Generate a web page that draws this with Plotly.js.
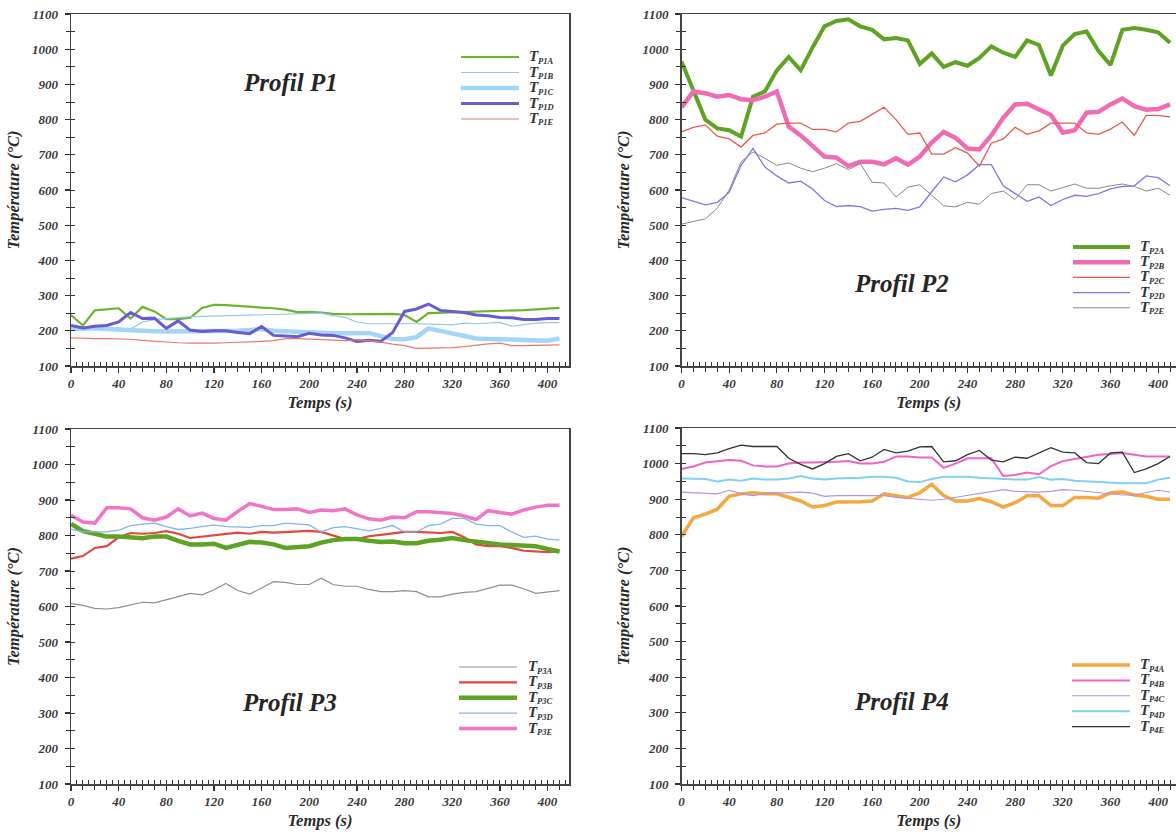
<!DOCTYPE html>
<html>
<head>
<meta charset="utf-8">
<script src="https://cdn.plot.ly/plotly-3.0.1.min.js"></script>
<style>html,body{margin:0;padding:0;background:#fff;}#chart{width:1176px;height:835px;}</style>
</head>
<body>
<div id="chart"></div>
<script>
// ---- data ----
const temps = [0,10,20,30,40,50,60,70,80,90,100,110,120,130,140,150,160,170,180,190,200,210,220,230,240,250,260,270,280,290,300,310,320,330,340,350,360,370,380,390,400,410];
const xTickVals = [0,40,80,120,160,200,240,280,320,360,400];
const yTickVals = [100,200,300,400,500,600,700,800,900,1000,1100];

const P1A = [245,215,258,262,264,235,268,255,233,233,237,265,274,273,270,268,266,264,260,253,254,252,248,247,247,248,248,248,245,225,250,251,252,252,255,256,257,258,259,261,263,265];
const P1B = [210,210,210,210,208,205,225,232,235,237,240,241,242,242,243,243,244,245,247,248,250,250,243,238,225,220,220,219,220,220,220,218,217,222,220,223,224,213,217,222,223,223];
const P1C = [205,207,207,205,203,200,200,199,198,198,198,200,200,200,200,202,205,200,198,197,196,195,193,193,194,194,185,177,176,182,207,200,192,184,178,177,176,174,172,171,172,178];
const P1D = [215,208,213,215,225,252,235,236,207,228,202,198,200,200,195,192,212,187,185,183,193,188,187,180,170,173,170,195,255,262,276,258,255,252,245,243,238,237,232,232,235,235];
const P1E = [180,178,178,178,178,176,173,170,168,166,165,164,165,166,167,167,170,172,178,178,176,175,173,172,175,172,168,162,158,150,150,151,152,155,160,163,165,158,158,158,160,160];

const P2A = [965,880,800,775,770,752,865,880,940,978,940,1005,1065,1080,1085,1065,1055,1028,1032,1025,958,988,950,963,953,975,1008,990,978,1025,1012,925,1010,1043,1050,995,955,1055,1060,1055,1048,1018];
const P2B = [835,880,875,865,870,858,855,865,880,780,755,725,695,692,668,680,680,673,690,672,695,735,765,748,718,715,755,805,843,845,830,813,763,770,820,822,843,860,838,828,830,843];
const P2C = [765,778,785,753,745,722,755,762,787,790,790,772,772,765,790,795,815,835,800,758,762,702,702,720,705,668,733,745,778,758,768,790,790,790,762,758,773,793,755,812,812,808];
const P2D = [578,568,558,565,593,670,718,665,640,620,625,603,570,553,556,553,540,545,548,542,552,595,637,623,643,672,672,612,590,568,580,556,573,585,582,590,603,610,612,640,635,612];
const P2E = [503,510,518,548,600,680,708,690,670,677,662,652,662,675,658,675,622,620,580,608,615,585,555,552,565,560,590,597,573,615,615,597,608,617,605,605,612,617,610,597,605,585];

const P3A = [608,603,595,593,597,605,612,610,618,628,637,633,647,665,645,635,652,670,668,662,662,680,662,657,657,648,642,642,645,642,627,627,635,640,642,652,660,660,650,637,642,645];
const P3B = [735,742,765,770,795,807,805,807,812,805,793,797,800,805,808,805,810,808,810,812,813,810,800,790,790,798,802,805,810,810,808,807,810,795,775,770,770,765,757,755,753,755];
const P3C = [833,812,805,797,797,793,792,797,797,785,775,775,777,765,772,782,780,775,765,767,770,780,787,790,790,785,782,783,778,778,785,788,793,787,782,780,775,773,773,770,762,755];
const P3D = [818,810,810,810,815,828,832,835,825,817,820,825,830,825,823,823,828,828,835,833,830,810,822,825,818,813,820,828,810,810,828,832,848,848,832,828,828,810,795,798,790,787];
const P3E = [857,838,835,878,878,875,850,843,852,875,855,863,848,843,868,890,882,873,873,875,865,872,870,875,858,847,843,852,850,867,867,865,862,855,845,870,865,860,872,880,885,885];

const P4A = [795,848,858,872,908,915,918,915,915,905,895,878,882,892,892,893,895,915,910,905,918,942,910,895,895,902,893,878,890,910,910,882,882,905,905,903,918,920,912,908,900,900];
const P4B = [985,992,1003,1007,1010,1008,995,992,992,1000,1003,1003,1003,1005,1007,1000,1000,1005,1020,1020,1017,1017,988,1000,1015,1015,1015,965,968,975,970,993,1007,1013,1018,1025,1027,1030,1025,1020,1020,1020];
const P4C = [920,918,918,915,925,915,910,915,917,918,920,917,908,910,910,910,912,910,905,902,900,897,900,905,912,915,922,927,922,920,920,922,927,925,922,920,917,912,912,918,925,920];
const P4D = [958,957,957,950,955,952,958,955,955,958,965,958,955,958,958,960,963,963,960,950,948,957,963,963,963,960,958,955,955,955,962,955,957,952,950,950,948,945,945,945,955,960];
const P4E = [1028,1028,1025,1030,1042,1052,1048,1048,1048,1015,998,985,1000,1020,1028,1008,1018,1040,1030,1035,1047,1048,1005,1008,1025,1037,1010,1005,1018,1015,1030,1045,1032,1030,1003,1000,1030,1032,975,985,1000,1020];

const profileTitles = ['Profil P1','Profil P2','Profil P3','Profil P4'];
const seriesNames = [
  ['P1A','P1B','P1C','P1D','P1E'],
  ['P2A','P2B','P2C','P2D','P2E'],
  ['P3A','P3B','P3C','P3D','P3E'],
  ['P4A','P4B','P4C','P4D','P4E']
];
const seriesValues = [
  [P1A,P1B,P1C,P1D,P1E],
  [P2A,P2B,P2C,P2D,P2E],
  [P3A,P3B,P3C,P3D,P3E],
  [P4A,P4B,P4C,P4D,P4E]
];

// ---- styles ----
const seriesColors = [
  ['#6cb330','#92c8f0','#a3d6f6','#6a5cd0','#ec7a68'],
  ['#5ea323','#f06cb2','#ea5a4c','#7d7ae6','#8a8a8a'],
  ['#8f8f8f','#e2473d','#5ea323','#7fb6ee','#f274c6'],
  ['#f5a83f','#ee64c2','#b592e4','#80d0f2','#333333']
];
const seriesWidths = [
  [2.2,1.2,4.5,3,1.2],
  [4,4.5,1.3,1.3,1],
  [1.2,2.2,4.5,1.3,3.5],
  [3.5,2,1.1,2,1.3]
];

// panel geometry in pixels
const W = 1176, H = 835;
const panels = [
  {l:71, r:569, t:14, b:366, xmax:418},
  {l:681.5, r:1176, t:14, b:366, xmax:415},
  {l:71, r:569, t:429, b:784, xmax:418},
  {l:681.5, r:1176, t:428, b:784, xmax:415}
];
const titlePos = [[290,82],[901,283],[289,702],[901,701]];
const legendPos = [
  {x0:461,x1:519,tx:527,y0:57,dy:15.5},
  {x0:1073,x1:1130,tx:1138,y0:247,dy:15.2},
  {x0:459,x1:517,tx:526,y0:667,dy:15.4},
  {x0:1072,x1:1130,tx:1138,y0:665,dy:15.4}
];

const serif = 'Liberation Serif, Times New Roman, serif';
const tickFont = {family: serif, size: 13, color: '#3a3a3a', weight: 'bold', style: 'italic'};
const titleFont = {family: serif, size: 16.5, color: '#2a2a2a', weight: 'bold', style: 'italic'};

const traces = [];
const layout = {
  width: W, height: H,
  margin: {l:0, r:0, t:0, b:0},
  paper_bgcolor: '#ffffff',
  plot_bgcolor: '#ffffff',
  showlegend: false,
  annotations: [],
  shapes: []
};

panels.forEach((p, i) => {
  const n = i + 1;
  const xs = n === 1 ? '' : String(n);
  const xo = String(n + 4);
  const xd = [p.l / W, Math.min(1, p.r / W)];
  const yd = [1 - p.b / H, 1 - p.t / H];

  layout['xaxis' + xs] = {
    domain: xd, anchor: 'y' + xs, range: [0, p.xmax],
    tickvals: xTickVals, ticks: 'outside', ticklen: 5, tickwidth: 1.2, tickcolor: '#333',
    minor: {dtick: 10, tick0: 0, ticks: 'outside', ticklen: 4, tickcolor: '#333', tickwidth: 1},
    showline: true, linecolor: '#444', linewidth: 1.5, mirror: true,
    showgrid: false, zeroline: false, tickfont: tickFont,
    title: {text: 'Temps (s)', font: titleFont, standoff: 6},
    automargin: false, fixedrange: true
  };
  layout['yaxis' + xs] = {
    domain: yd, anchor: 'x' + xs, range: [100, 1100],
    tickvals: yTickVals, ticks: 'outside', ticklen: 5, tickwidth: 1.2, tickcolor: '#333',
    minor: {dtick: 50, tick0: 100, ticks: 'outside', ticklen: 4, tickcolor: '#333', tickwidth: 1},
    showline: true, linecolor: '#444', linewidth: 1.5, mirror: true,
    showgrid: false, zeroline: false, tickfont: tickFont, ticklabelstandoff: 4,
    title: {text: 'Température (°C)', font: titleFont, standoff: 8},
    automargin: false, fixedrange: true
  };
  // overlay axes for the inside half of the cross ticks
  layout['xaxis' + xo] = {
    overlaying: 'x' + xs, anchor: 'y' + xo, range: [0, p.xmax], side: 'bottom',
    dtick: 5, tick0: 0, ticks: 'inside', ticklen: 4, tickcolor: '#333', tickwidth: 1,
    showticklabels: false, showline: false, showgrid: false, zeroline: false, fixedrange: true
  };
  layout['yaxis' + xo] = {
    overlaying: 'y' + xs, anchor: 'x' + xo, range: [100, 1100], side: 'left',
    dtick: 50, tick0: 100, ticks: 'inside', ticklen: 4, tickcolor: '#333', tickwidth: 1,
    showticklabels: false, showline: false, showgrid: false, zeroline: false, fixedrange: true
  };
  traces.push({x: [], y: [], xaxis: 'x' + xo, yaxis: 'y' + xo, mode: 'lines', hoverinfo: 'skip', showlegend: false});

  // series
  seriesNames[i].forEach((name, k) => {
    traces.push({
      x: temps, y: seriesValues[i][k], type: 'scatter', mode: 'lines',
      name: 'T' + name, xaxis: 'x' + xs, yaxis: 'y' + xs,
      line: {color: seriesColors[i][k], width: seriesWidths[i][k]},
      showlegend: false
    });
    // legend entry: sample line, "T" and its subscript
    const lg = legendPos[i];
    const yPix = lg.y0 + k * lg.dy;
    layout.shapes.push({
      type: 'line', xref: 'paper', yref: 'paper',
      x0: lg.x0 / W, x1: lg.x1 / W, y0: 1 - yPix / H, y1: 1 - yPix / H,
      line: {color: seriesColors[i][k], width: seriesWidths[i][k]}
    });
    layout.annotations.push({
      xref: 'paper', yref: 'paper', x: lg.tx / W, y: 1 - (yPix - 1) / H,
      xanchor: 'left', yanchor: 'middle', showarrow: false,
      text: 'T',
      font: {family: serif, size: 15, color: '#333', weight: 'bold', style: 'italic'}
    });
    layout.annotations.push({
      xref: 'paper', yref: 'paper', x: (lg.tx + 8.5) / W, y: 1 - (yPix + 3.5) / H,
      xanchor: 'left', yanchor: 'middle', showarrow: false,
      text: name,
      font: {family: serif, size: 8.5, color: '#333', weight: 'bold', style: 'italic'}
    });
  });

  // panel title
  layout.annotations.push({
    xref: 'paper', yref: 'paper', x: titlePos[i][0] / W, y: 1 - titlePos[i][1] / H,
    xanchor: 'center', yanchor: 'middle', showarrow: false,
    text: profileTitles[i],
    font: {family: serif, size: 25, color: '#262626', weight: 'bold', style: 'italic'}
  });
});

Plotly.newPlot('chart', traces, layout, {displayModeBar: false, staticPlot: true});
</script>
</body>
</html>
